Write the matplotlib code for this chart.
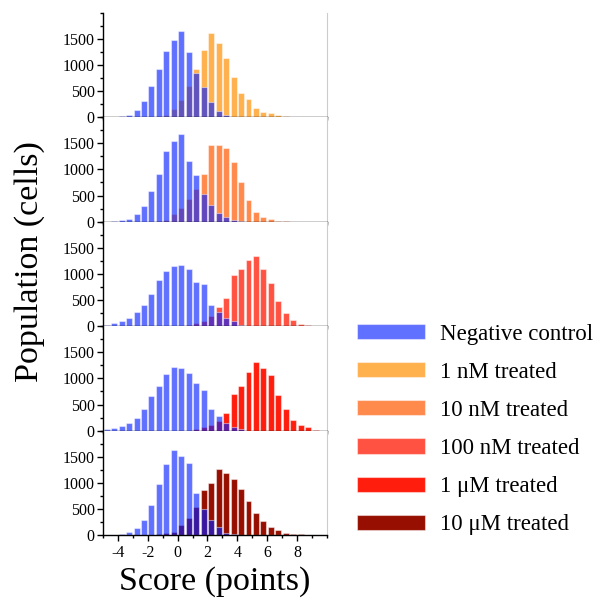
import matplotlib
matplotlib.use("Agg")
import matplotlib.pyplot as plt
from matplotlib.patches import Patch
from matplotlib.ticker import MultipleLocator

plt.rcParams["font.family"] = ["Liberation Serif", "DejaVu Serif"]
plt.rcParams["axes.unicode_minus"] = False

# bin centres (score, points)
score = [-4.75, -4.25, -3.75, -3.25, -2.75, -2.25, -1.75, -1.25, -0.75, -0.25,
         0.25, 0.75, 1.25, 1.75, 2.25, 2.75, 3.25, 3.75, 4.25, 4.75,
         5.25, 5.75, 6.25, 6.75, 7.25, 7.75, 8.25, 8.75, 9.25]

control_1 = [0, 5, 15, 50, 140, 300, 590, 920, 1275, 1480,
             1655, 1255, 850, 575, 295, 115, 35, 8, 0, 0,
             0, 0, 0, 0, 0, 0, 0, 0, 0]
treated_1nm = [0, 0, 0, 0, 0, 0, 0, 15, 50, 160,
               330, 590, 920, 1280, 1610, 1420, 1140, 770, 460, 340,
               170, 95, 80, 40, 30, 10, 0, 0, 0]

control_2 = [0, 5, 25, 60, 150, 300, 590, 905, 1350, 1550,
             1680, 1170, 885, 525, 310, 170, 85, 35, 10, 0,
             0, 0, 0, 0, 0, 0, 0, 0, 0]
treated_10nm = [0, 0, 0, 0, 0, 0, 0, 10, 40, 140,
                270, 430, 620, 905, 1470, 1475, 1410, 1150, 760, 410,
                180, 90, 45, 20, 8, 0, 0, 0, 0]

control_3 = [30, 65, 95, 160, 275, 400, 625, 875, 1055, 1160,
             1180, 1090, 850, 800, 400, 275, 150, 95, 30, 0,
             0, 0, 0, 0, 0, 0, 0, 0, 0]
treated_100nm = [0, 0, 0, 0, 0, 0, 0, 0, 0, 0,
                 0, 30, 60, 100, 200, 365, 545, 970, 1085, 1265,
                 1340, 1085, 830, 480, 255, 110, 50, 20, 12]

control_4 = [25, 50, 95, 155, 250, 420, 670, 860, 1080, 1225,
             1195, 1095, 905, 780, 415, 275, 145, 75, 30, 0,
             0, 0, 0, 0, 0, 0, 0, 0, 0]
treated_1um = [0, 0, 0, 0, 0, 0, 0, 0, 0, 0,
               0, 0, 30, 70, 105, 190, 340, 705, 860, 1120,
               1320, 1195, 1070, 690, 410, 205, 110, 65, 20]

control_5 = [0, 10, 30, 65, 130, 300, 585, 975, 1370, 1625,
             1515, 1390, 815, 500, 300, 155, 50, 30, 10, 0,
             0, 0, 0, 0, 0, 0, 0, 0, 0]
treated_10um = [0, 0, 0, 0, 0, 0, 0, 15, 40, 70,
                190, 320, 530, 860, 990, 1275, 1195, 1070, 880, 655,
                415, 270, 150, 90, 50, 25, 18, 12, 0]

controls = [control_1, control_2, control_3, control_4, control_5]
treated = [treated_1nm, treated_10nm, treated_100nm, treated_1um, treated_10um]
treated_labels = ["1 nM treated", "10 nM treated", "100 nM treated",
                  "1 μM treated", "10 μM treated"]
treated_colors = ["#ffb14e", "#ff8a4c", "#ff5242", "#ff1e0e", "#960f00"]
control_color = (0.02, 0.12, 1.0, 0.63)

fig, axes = plt.subplots(5, 1, figsize=(6.02, 6.02), dpi=100, sharex=True)
fig.subplots_adjust(left=0.171, right=0.543, top=0.979, bottom=0.111, hspace=0)

edge = (1, 1, 1, 0.45)
for ax, ctrl, trt, col in zip(axes, controls, treated, treated_colors):
    ax.bar(score, trt, width=0.4, color=col, edgecolor=edge, linewidth=0.8)
    ax.bar(score, ctrl, width=0.4, color=control_color, edgecolor=edge, linewidth=0.8)
    ax.set_xlim(-5, 10)
    ax.set_ylim(0, 2000)
    ax.set_yticks([0, 500, 1000, 1500])
    ax.yaxis.set_minor_locator(MultipleLocator(250))
    ax.set_xticks([-4, -2, 0, 2, 4, 6, 8])
    ax.xaxis.set_minor_locator(MultipleLocator(1))
    ax.tick_params(which="major", direction="out", length=4, width=1, labelsize=11.5, pad=2)
    ax.tick_params(which="minor", direction="out", length=2, width=1)
    ax.spines["top"].set_visible(False)
    ax.spines["right"].set_color("#cccccc")
    ax.spines["right"].set_linewidth(0.8)
    ax.spines["left"].set_linewidth(1.0)
    ax.spines["bottom"].set_linewidth(1.0)

axes[-1].tick_params(axis="x", labelsize=11.5, pad=3)

fig.text(0.05, 0.565, "Population (cells)", rotation=90, ha="center", va="center", fontsize=24.5)
fig.text(0.357, 0.034, "Score (points)", ha="center", va="center", fontsize=24.5)

handles = [Patch(facecolor=control_color, edgecolor=edge, linewidth=0.8)]
handles += [Patch(facecolor=c, edgecolor=edge, linewidth=0.8) for c in treated_colors]
labels = ["Negative control"] + treated_labels
fig.legend(handles, labels, loc="upper left", bbox_to_anchor=(357 / 602, 1 - 323.5 / 602),
           frameon=False, fontsize=16.5, handlelength=2.95, handleheight=0.65,
           handletextpad=0.65, labelspacing=0.75, borderpad=0, borderaxespad=0)

fig.savefig("out.png", dpi=100)
